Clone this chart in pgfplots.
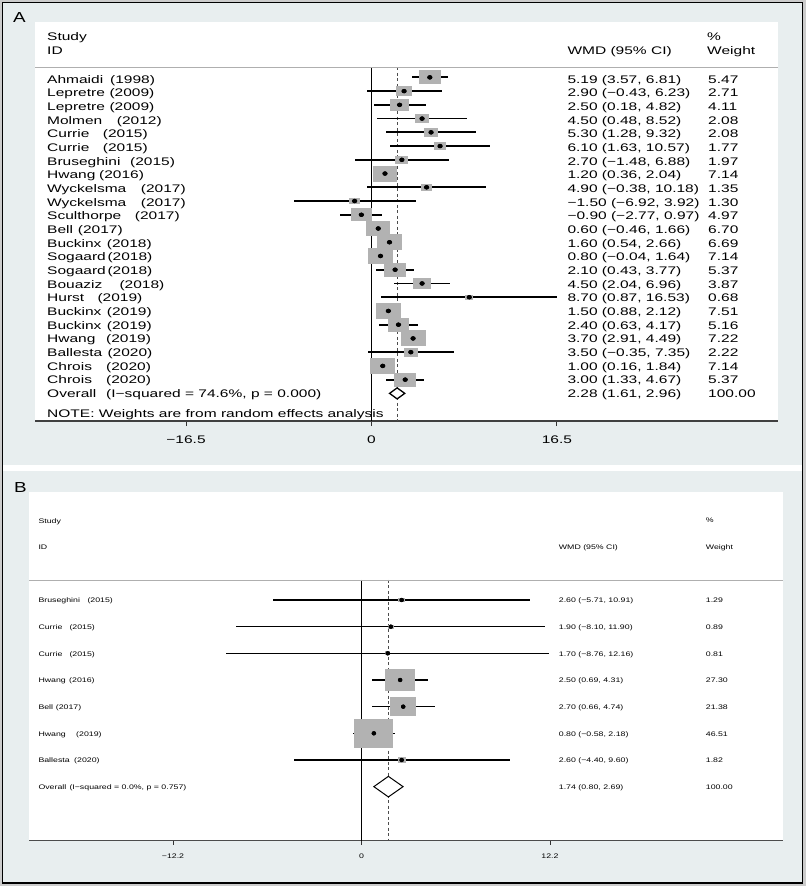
\documentclass[border=0pt]{standalone}
\usepackage{pgfplots}
\pgfplotsset{compat=1.18}
\usepackage{pgfplotstable}
\usepackage{fontspec}
\setmainfont{Liberation Sans}
\newfontfamily\fA{Liberation Sans}[FakeStretch=1.41]
\newfontfamily\fB{Liberation Sans}[FakeStretch=1.33]
\newfontfamily\fL{Liberation Sans}[FakeStretch=1.3]
\newcommand\fontA{\fA\fontsize{11pt}{13pt}\selectfont}
\newcommand\fontB{\fB\fontsize{6.6pt}{8pt}\selectfont}
\newcommand\fontL{\fL\fontsize{14.5pt}{16pt}\selectfont}

\definecolor{bgout}{RGB}{204,204,204}
\definecolor{bgpanel}{RGB}{232,238,239}
\definecolor{boxgray}{RGB}{178,178,178}
\definecolor{sepgray}{RGB}{175,175,175}

\pgfdeclareplotmark{boxA}{\pgfpathrectangle{\pgfpoint{-1.55\pgfplotmarksize}{-\pgfplotmarksize}}{\pgfpoint{3.1\pgfplotmarksize}{2\pgfplotmarksize}}\pgfusepathqfill}
\pgfdeclareplotmark{boxB}{\pgfpathrectangle{\pgfpoint{-1.37\pgfplotmarksize}{-\pgfplotmarksize}}{\pgfpoint{2.74\pgfplotmarksize}{2\pgfplotmarksize}}\pgfusepathqfill}
\pgfdeclareplotmark{pdotA}{\pgfpathellipse{\pgfpointorigin}{\pgfpoint{2.7pt}{0pt}}{\pgfpoint{0pt}{2.1pt}}\pgfusepathqfill}
\pgfdeclareplotmark{pdotB}{\pgfpathellipse{\pgfpointorigin}{\pgfpoint{2.2pt}{0pt}}{\pgfpoint{0pt}{1.9pt}}\pgfusepathqfill}

% Panel A: study rows
\pgfplotstableread{
row est lo hi w
1 5.19 3.57 6.81 5.47
2 2.90 -0.43 6.23 2.71
3 2.50 0.18 4.82 4.11
4 4.50 0.48 8.52 2.08
5 5.30 1.28 9.32 2.08
6 6.10 1.63 10.57 1.77
7 2.70 -1.48 6.88 1.97
8 1.20 0.36 2.04 7.14
9 4.90 -0.38 10.18 1.35
10 -1.50 -6.92 3.92 1.30
11 -0.90 -2.77 0.97 4.97
12 0.60 -0.46 1.66 6.70
13 1.60 0.54 2.66 6.69
14 0.80 -0.04 1.64 7.14
15 2.10 0.43 3.77 5.37
16 4.50 2.04 6.96 3.87
17 8.70 0.87 16.53 0.68
18 1.50 0.88 2.12 7.51
19 2.40 0.63 4.17 5.16
20 3.70 2.91 4.49 7.22
21 3.50 -0.35 7.35 2.22
22 1.00 0.16 1.84 7.14
23 3.00 1.33 4.67 5.37
}\tabA

% Panel B: study rows
\pgfplotstableread{
row est lo hi w
1 2.60 -5.71 10.91 1.29
2 1.90 -8.10 11.90 0.89
3 1.70 -8.76 12.16 0.81
4 2.50 0.69 4.31 27.30
5 2.70 0.66 4.74 21.38
6 0.80 -0.58 2.18 46.51
7 2.60 -4.40 9.60 1.82
}\tabB

\begin{document}
\begin{tikzpicture}
\useasboundingbox (0pt,0pt) rectangle (806pt,-886pt);
\fill[bgout] (0pt,0pt) rectangle (806pt,-886pt);
\filldraw[fill=bgpanel, draw=black, line width=1.3pt] (2.5pt,-2.5pt) rectangle (802.5pt,-883pt);
\fill[white] (3.2pt,-465pt) rectangle (801.8pt,-471pt);

% ---------------- Panel A ----------------
\begin{axis}[
  at={(35pt,-22pt)}, anchor=north west,
  scale only axis, width=743pt, height=399pt,
  xmin=-29.94, xmax=36.17, ymin=-26.01, ymax=3.03,
  axis background/.style={fill=white},
  axis x line*=bottom, axis y line=none,
  axis line style={-, draw=black!75, line width=1.3pt},
  xtick={-16.5,0,16.5}, xticklabels={−16.5,0,16.5},
  xtick align=outside, major tick length=5pt,
  tick style={draw=black!80, line width=1.1pt},
  xticklabel style={font=\fontA, anchor=base, inner sep=0pt, yshift=-17pt},
  clip=false,
]
\addplot[black, line width=1.2pt] coordinates {(0,-0.265) (0,-26.01)};
\addplot[black!70, line width=0.9pt, dash pattern=on 3pt off 2.5pt] coordinates {(2.28,-0.265) (2.28,-26.01)};
\addplot[scatter, only marks, mark=boxA,
  scatter/use mapped color={draw=none, fill=boxgray},
  visualization depends on={3.0*sqrt(\thisrow{w}) \as \msz},
  scatter/@pre marker code/.append style={/tikz/mark size=\msz}]
  table[x=est, y expr=-\thisrow{row}] {\tabA};
\addplot[only marks, mark=none,
  error bars/.cd, x dir=both, x explicit, error mark=none,
  error bar style={draw=black, line width=1.8pt, solid}]
  table[x=est, y expr=-\thisrow{row},
        x error plus expr=\thisrow{hi}-\thisrow{est},
        x error minus expr=\thisrow{est}-\thisrow{lo}] {\tabA};
\addplot[only marks, mark=pdotA, black] table[x=est, y expr=-\thisrow{row}] {\tabA};
\addplot[draw=black, line width=1.3pt, fill=white] coordinates {(1.61,-24) (2.28,-23.6) (2.96,-24) (2.28,-24.4)} -- cycle;
\end{axis}

\draw[sepgray, line width=0.8pt] (35pt,-67.3pt) -- (778pt,-67.3pt);
\node[anchor=base west, inner sep=0pt, font=\fontL] at (13pt,-22.7pt) {A};
\node[anchor=base west, inner sep=0pt, font=\fontA] at (47pt,-40pt) {Study};
\node[anchor=base west, inner sep=0pt, font=\fontA] at (47pt,-54.3pt) {ID};
\node[anchor=base west, inner sep=0pt, font=\fontA] at (567.3pt,-54.3pt) {WMD (95\% CI)};
\node[anchor=base west, inner sep=0pt, font=\fontA] at (707pt,-40pt) {\%};
\node[anchor=base west, inner sep=0pt, font=\fontA] at (707pt,-54.3pt) {Weight};
\node[anchor=base west, inner sep=0pt, font=\fontA] at (47pt,-417pt) {NOTE: Weights are from random effects analysis};

\foreach \i/\nm/\px/\yr/\ci/\wt in {
 1/Ahmaidi/110/(1998)/{5.19 (3.57, 6.81)}/5.47,
 2/Lepretre/109.3/(2009)/{2.90 (−0.43, 6.23)}/2.71,
 3/Lepretre/109.3/(2009)/{2.50 (0.18, 4.82)}/4.11,
 4/Molmen/116.7/(2012)/{4.50 (0.48, 8.52)}/2.08,
 5/Currie/102.7/(2015)/{5.30 (1.28, 9.32)}/2.08,
 6/Currie/102.7/(2015)/{6.10 (1.63, 10.57)}/1.77,
 7/Bruseghini/130/(2015)/{2.70 (−1.48, 6.88)}/1.97,
 8/Hwang/99/(2016)/{1.20 (0.36, 2.04)}/7.14,
 9/Wyckelsma/140.7/(2017)/{4.90 (−0.38, 10.18)}/1.35,
 10/Wyckelsma/140.7/(2017)/{−1.50 (−6.92, 3.92)}/1.30,
 11/Sculthorpe/134.7/(2017)/{−0.90 (−2.77, 0.97)}/4.97,
 12/Bell/77.7/(2017)/{0.60 (−0.46, 1.66)}/6.70,
 13/Buckinx/106.7/(2018)/{1.60 (0.54, 2.66)}/6.69,
 14/Sogaard/107.3/(2018)/{0.80 (−0.04, 1.64)}/7.14,
 15/Sogaard/107.3/(2018)/{2.10 (0.43, 3.77)}/5.37,
 16/Bouaziz/119.3/(2018)/{4.50 (2.04, 6.96)}/3.87,
 17/Hurst/97.3/(2019)/{8.70 (0.87, 16.53)}/0.68,
 18/Buckinx/106.7/(2019)/{1.50 (0.88, 2.12)}/7.51,
 19/Buckinx/106.7/(2019)/{2.40 (0.63, 4.17)}/5.16,
 20/Hwang/106/(2019)/{3.70 (2.91, 4.49)}/7.22,
 21/Ballesta/107.3/(2020)/{3.50 (−0.35, 7.35)}/2.22,
 22/Chrois/106/(2020)/{1.00 (0.16, 1.84)}/7.14,
 23/Chrois/106/(2020)/{3.00 (1.33, 4.67)}/5.37,
 24/Overall/106/{(I−squared = 74.6\%, p = 0.000)}/{2.28 (1.61, 2.96)}/100.00}{
 \pgfmathsetmacro\yb{-(83+13.67*(\i-1))}
 \node[anchor=base west, inner sep=0pt, font=\fontA] at (47pt,\yb pt) {\nm};
 \node[anchor=base west, inner sep=0pt, font=\fontA] at (\px pt,\yb pt) {\yr};
 \node[anchor=base west, inner sep=0pt, font=\fontA] at (567.3pt,\yb pt) {\ci};
 \node[anchor=base west, inner sep=0pt, font=\fontA] at (708pt,\yb pt) {\wt};
}

% ---------------- Panel B ----------------
\begin{axis}[
  at={(29pt,-492pt)}, anchor=north west,
  scale only axis, width=754pt, height=348.5pt,
  xmin=-21.52, xmax=27.28, ymin=-10.02, ymax=3.05,
  axis background/.style={fill=white},
  axis x line*=bottom, axis y line=none,
  axis line style={-, draw=black!70, line width=1pt},
  xtick={-12.2,0,12.2}, xticklabels={−12.2,0,12.2},
  xtick align=outside, major tick length=4pt,
  tick style={draw=black!80, line width=0.9pt},
  xticklabel style={font=\fontB, anchor=base, inner sep=0pt, yshift=-13.8pt},
  clip=false,
]
\addplot[black, line width=1pt] coordinates {(0,-0.25) (0,-10.02)};
\addplot[black!70, line width=0.8pt, dash pattern=on 3pt off 2.5pt] coordinates {(1.74,-0.25) (1.74,-10.02)};
\addplot[scatter, only marks, mark=boxB,
  scatter/use mapped color={draw=none, fill=boxgray},
  visualization depends on={2.08*sqrt(\thisrow{w}) \as \msz},
  scatter/@pre marker code/.append style={/tikz/mark size=\msz}]
  table[x=est, y expr=-\thisrow{row}] {\tabB};
\addplot[only marks, mark=none,
  error bars/.cd, x dir=both, x explicit, error mark=none,
  error bar style={draw=black, line width=1.5pt, solid}]
  table[x=est, y expr=-\thisrow{row},
        x error plus expr=\thisrow{hi}-\thisrow{est},
        x error minus expr=\thisrow{est}-\thisrow{lo}] {\tabB};
\addplot[only marks, mark=pdotB, black] table[x=est, y expr=-\thisrow{row}] {\tabB};
\addplot[draw=black, line width=1pt, fill=white] coordinates {(0.80,-8) (1.74,-7.614) (2.69,-8) (1.74,-8.386)} -- cycle;
\end{axis}

\draw[sepgray, line width=0.8pt] (29pt,-580pt) -- (783pt,-580pt);
\node[anchor=base west, inner sep=0pt, font=\fontL] at (14pt,-492.5pt) {B};
\node[anchor=base west, inner sep=0pt, font=\fontB] at (38.3pt,-523.3pt) {Study};
\node[anchor=base west, inner sep=0pt, font=\fontB] at (38.3pt,-549.3pt) {ID};
\node[anchor=base west, inner sep=0pt, font=\fontB] at (558.7pt,-549.3pt) {WMD (95\% CI)};
\node[anchor=base west, inner sep=0pt, font=\fontB] at (705.7pt,-522.7pt) {\%};
\node[anchor=base west, inner sep=0pt, font=\fontB] at (705.7pt,-549.3pt) {Weight};

\foreach \i/\nm/\px/\yr/\ci/\wt in {
 1/Bruseghini/87.3/(2015)/{2.60 (−5.71, 10.91)}/1.29,
 2/Currie/69.3/(2015)/{1.90 (−8.10, 11.90)}/0.89,
 3/Currie/69.3/(2015)/{1.70 (−8.76, 12.16)}/0.81,
 4/Hwang/69/(2016)/{2.50 (0.69, 4.31)}/27.30,
 5/Bell/55.7/(2017)/{2.70 (0.66, 4.74)}/21.38,
 6/Hwang/76/(2019)/{0.80 (−0.58, 2.18)}/46.51,
 7/Ballesta/74/(2020)/{2.60 (−4.40, 9.60)}/1.82,
 8/Overall/69.3/{(I−squared = 0.0\%, p = 0.757)}/{1.74 (0.80, 2.69)}/100.00}{
 \pgfmathsetmacro\yb{-(602.7+26.67*(\i-1))}
 \node[anchor=base west, inner sep=0pt, font=\fontB] at (38.3pt,\yb pt) {\nm};
 \node[anchor=base west, inner sep=0pt, font=\fontB] at (\px pt,\yb pt) {\yr};
 \node[anchor=base west, inner sep=0pt, font=\fontB] at (558.7pt,\yb pt) {\ci};
 \node[anchor=base west, inner sep=0pt, font=\fontB] at (705.7pt,\yb pt) {\wt};
}
\end{tikzpicture}
\end{document}
